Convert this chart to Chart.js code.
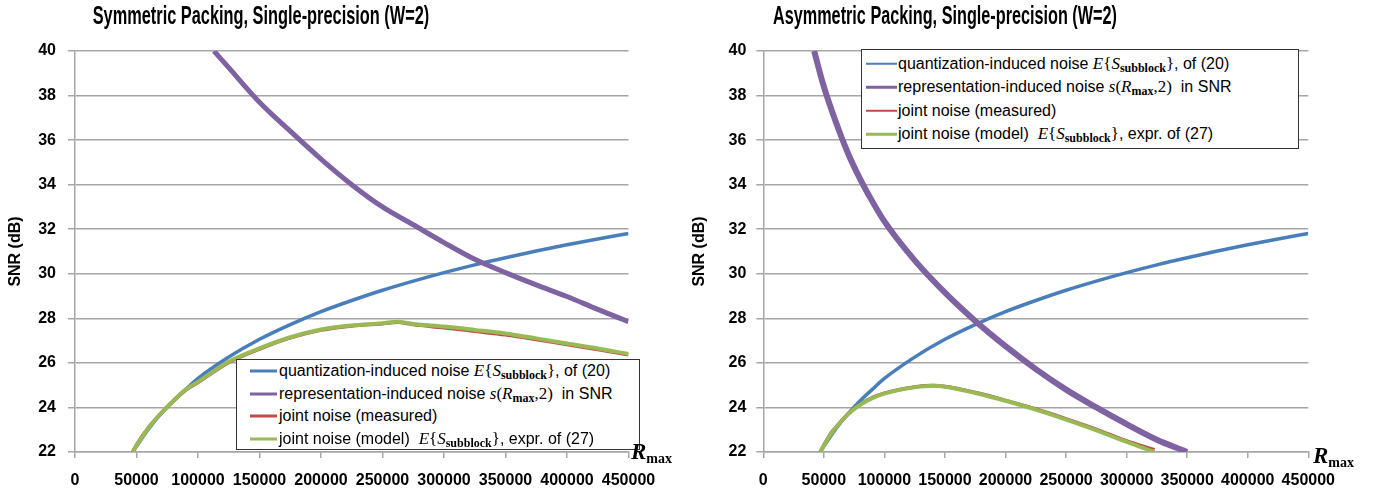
<!DOCTYPE html>
<html>
<head>
<meta charset="utf-8">
<title>SNR vs Rmax</title>
<script src="https://cdn.jsdelivr.net/npm/chart.js@4.4.1/dist/chart.umd.min.js"></script>
<style>
  html, body { margin: 0; padding: 0; background: #fff; }
  #page { position: relative; width: 1373px; height: 495px; overflow: hidden; font-family: 'Liberation Sans', Arial, sans-serif; }
  canvas { position: absolute; top: 0; }
  .title { position: absolute; top: 0; font-weight: bold; font-size: 25px; line-height: 30px; white-space: nowrap; color: #000; }
  .legend { position: absolute; background: #fff; border: 1.5px solid #333; box-sizing: border-box; }
  .legend .row { position: absolute; left: 0; height: 22px; line-height: 22px; white-space: nowrap; font-size: 16px; color: #000; }
  .legend .sw { position: absolute; top: 50%; transform: translateY(-50%); }
  .legend .txt { position: absolute; top: 0; }
  .m { font-family: 'Liberation Serif', 'DejaVu Serif', serif; font-size: 17px; }
  .m sub { font-weight: bold; font-style: normal; font-size: 12px; vertical-align: -3px; }
  .rmax { position: absolute; font-family: 'Liberation Serif', serif; font-weight: bold; font-style: italic; font-size: 23px; color: #000; }
  .rmax sub { font-style: normal; font-size: 14px; vertical-align: -4px; }
</style>
</head>
<body>
<div id="page">
  <canvas id="symChart" width="686" height="495" style="left:0"></canvas>
  <canvas id="asymChart" width="687" height="495" style="left:686px"></canvas>
</div>
<script>
// ===== data =====
const rTicks = [0, 50000, 100000, 150000, 200000, 250000, 300000, 350000, 400000, 450000];
const snrTicks = [22, 24, 26, 28, 30, 32, 34, 36, 38, 40];

// quantization-induced noise, same curve in both panels
const quantR = [47000, 50000, 60000, 70000, 80000, 90000, 100000, 125000, 150000, 175000, 200000,
  225000, 250000, 275000, 300000, 325000, 350000, 375000, 400000, 425000, 450000];
const quantSNR = [22.0, 22.26, 23.05, 23.72, 24.3, 24.81, 25.3, 26.26, 27.06, 27.72, 28.3,
  28.8, 29.26, 29.67, 30.05, 30.4, 30.72, 31.02, 31.3, 31.56, 31.81];

// symmetric packing
const symReprR = [113000, 125000, 150000, 175000, 200000, 225000, 250000, 275000, 300000,
  325000, 350000, 375000, 400000, 425000, 450000];
const symReprSNR = [40.0, 39.25, 37.7, 36.4, 35.15, 34.0, 33.0, 32.2, 31.4,
  30.65, 30.05, 29.5, 28.98, 28.4, 27.85];
const symJointR = [47000, 50000, 60000, 70000, 80000, 90000, 100000, 125000, 150000, 175000, 200000,
  225000, 250000, 262000, 275000, 300000, 325000, 350000, 375000, 400000, 425000, 450000];
const symMeasuredSNR = [22.0, 22.32, 23.12, 23.74, 24.28, 24.78, 25.12, 26.02, 26.62, 27.12, 27.47,
  27.66, 27.76, 27.82, 27.72, 27.58, 27.42, 27.26, 27.05, 26.82, 26.6, 26.36];
const symModelSNR = [22.0, 22.3, 23.1, 23.75, 24.3, 24.8, 25.15, 26.05, 26.65, 27.15, 27.5,
  27.68, 27.78, 27.85, 27.75, 27.63, 27.48, 27.32, 27.1, 26.87, 26.65, 26.4];

// asymmetric packing
const asymReprR = [42000, 50000, 60000, 70000, 80000, 90000, 100000, 125000, 150000, 175000,
  200000, 225000, 250000, 275000, 300000, 325000, 350000];
const asymReprSNR = [40.0, 38.4, 36.8, 35.4, 34.25, 33.25, 32.35, 30.6, 29.15, 27.88,
  26.75, 25.72, 24.8, 24.0, 23.25, 22.55, 22.0];
const asymJointR = [47000, 55000, 60000, 70000, 80000, 90000, 100000, 125000, 140000, 150000,
  175000, 200000, 225000, 250000, 275000, 300000, 323000];
const asymMeasuredSNR = [22.0, 22.78, 23.12, 23.7, 24.14, 24.44, 24.64, 24.92, 24.98, 24.94,
  24.67, 24.32, 23.93, 23.49, 23.02, 22.5, 22.1];
const asymModelSNR = [22.0, 22.75, 23.1, 23.7, 24.12, 24.42, 24.62, 24.9, 24.97, 24.93,
  24.65, 24.3, 23.9, 23.45, 22.97, 22.45, 22.0];

// ===== styles =====
const COLORS = { quant: '#4A7EBB', repr: '#7F62A1', measured: '#BE4B48', model: '#98B954' };
const FONT = "'Liberation Sans', Arial, sans-serif";
const GRID = '#a6a6a6';

function pts(xs, ys) {
  return xs.map((x, i) => ({ x: x, y: ys[i] }));
}

function line(xs, ys, color, width, order) {
  return {
    data: pts(xs, ys),
    borderColor: color,
    backgroundColor: color,
    borderWidth: width,
    pointRadius: 0,
    cubicInterpolationMode: 'monotone',
    order: order
  };
}

function makeChart(id, datasets, geo) {
  return new Chart(document.getElementById(id), {
    type: 'line',
    data: { datasets: datasets },
    options: {
      responsive: false,
      animation: false,
      devicePixelRatio: 1,
      layout: { padding: { left: geo.padLeft, top: 51, right: geo.padRight, bottom: 0 } },
      plugins: { legend: { display: false }, tooltip: { enabled: false }, title: { display: false } },
      scales: {
        x: {
          type: 'linear',
          min: 0, max: 450000,
          afterBuildTicks: axis => { axis.ticks = rTicks.map(v => ({ value: v })); },
          afterFit: axis => { axis.height = 43; },
          grid: { drawOnChartArea: false, drawTicks: true, tickLength: 6, color: GRID, lineWidth: 1.5 },
          border: { display: true, color: GRID, width: 1.5 },
          ticks: {
            color: '#000', padding: 13, maxRotation: 0, autoSkip: false,
            font: { family: FONT, weight: 'bold', size: 16 },
            callback: v => String(v)
          }
        },
        y: {
          min: 22, max: 40,
          afterBuildTicks: axis => { axis.ticks = snrTicks.map(v => ({ value: v })); },
          afterFit: axis => { axis.width = geo.yWidth; },
          grid: { color: GRID, lineWidth: 1.5, tickLength: 7 },
          border: { display: true, color: GRID, width: 1.5 },
          ticks: {
            color: '#000', padding: geo.tickPad,
            font: { family: FONT, weight: 'bold', size: 16 },
            callback: v => String(v)
          },
          title: {
            display: true, text: 'SNR (dB)', color: '#000', padding: geo.titlePad,
            font: { family: FONT, weight: 'bold', size: 16 }
          }
        }
      }
    }
  });
}

makeChart('symChart', [
  line(quantR, quantSNR, COLORS.quant, 3.5, 3),
  line(symReprR, symReprSNR, COLORS.repr, 5, 2),
  line(symJointR, symMeasuredSNR, COLORS.measured, 3.5, 1),
  line(symJointR, symModelSNR, COLORS.model, 4, 0)
], { padLeft: 4, padRight: 57.5, yWidth: 71, tickPad: 12, titlePad: 2 });

makeChart('asymChart', [
  line(quantR, quantSNR, COLORS.quant, 3.5, 3),
  line(asymReprR, asymReprSNR, COLORS.repr, 6, 2),
  line(asymJointR, asymMeasuredSNR, COLORS.measured, 3.5, 1),
  line(asymJointR, asymModelSNR, COLORS.model, 4, 0)
], { padLeft: 4, padRight: 64.7, yWidth: 73.3, tickPad: 10, titlePad: 0 });

// ===== titles, legends, axis labels (HTML overlay) =====
const page = document.getElementById('page');

function addTitle(text, cx, width) {
  const el = document.createElement('div');
  el.className = 'title';
  el.textContent = text;
  page.appendChild(el);
  const s = width / el.offsetWidth;
  el.style.left = cx + 'px';
  el.style.transform = 'translateX(-50%) scaleX(' + s.toFixed(3) + ')';
}

const E_SUB = '<span class="m"><i>E</i>{<i>S</i><sub>subblock</sub>}</span>';
const S_RMAX = '<span class="m"><i>s</i>(<i>R</i><sub>max</sub>,2)</span>';
const legendItems = [
  { color: COLORS.quant, html: 'quantization-induced noise ' + E_SUB + ', of (20)' },
  { color: COLORS.repr, html: 'representation-induced noise ' + S_RMAX + ' &nbsp;in SNR' },
  { color: COLORS.measured, html: 'joint noise (measured)' },
  { color: COLORS.model, html: 'joint noise (model) &nbsp;' + E_SUB + ', expr. of (27)' }
];

function addLegend(g) {
  const box = document.createElement('div');
  box.className = 'legend';
  box.style.left = g.left + 'px';
  box.style.top = g.top + 'px';
  box.style.width = g.width + 'px';
  box.style.height = g.height + 'px';
  legendItems.forEach((it, i) => {
    const row = document.createElement('div');
    row.className = 'row';
    row.style.top = (g.first + i * g.step - 11) + 'px';
    row.innerHTML = '<span class="sw" style="left:' + g.swLeft + 'px;width:' + g.swWidth +
      'px;height:' + g.swHeight + 'px;background:' + it.color + '"></span>' +
      '<span class="txt" style="left:' + g.txtLeft + 'px">' + it.html + '</span>';
    box.appendChild(row);
  });
  page.appendChild(box);
}

function addRmax(x, y) {
  const el = document.createElement('div');
  el.className = 'rmax';
  el.style.left = x + 'px';
  el.style.top = y + 'px';
  el.innerHTML = 'R<sub>max</sub>';
  page.appendChild(el);
}

addTitle('Symmetric Packing, Single-precision (W=2)', 261, 337);
addTitle('Asymmetric Packing, Single-precision (W=2)', 945, 344);

addLegend({ left: 236, top: 359, width: 404, height: 91, first: 11, step: 22.7,
  swLeft: 13, swWidth: 27, swHeight: 3, txtLeft: 42 });
addLegend({ left: 861, top: 49, width: 438, height: 100, first: 13.5, step: 23.6,
  swLeft: 4, swWidth: 31, swHeight: 2.5, txtLeft: 36 });

addRmax(631, 439);
addRmax(1313, 443);
</script>
</body>
</html>
